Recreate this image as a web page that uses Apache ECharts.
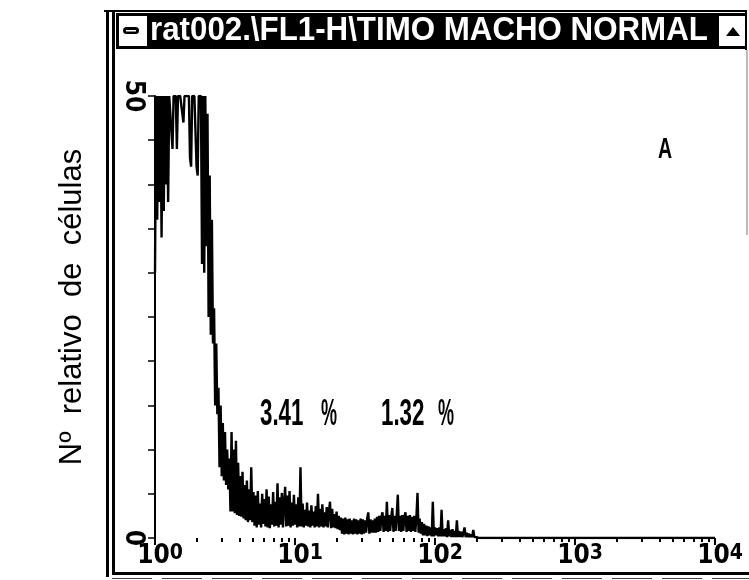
<!DOCTYPE html>
<html><head><meta charset="utf-8">
<script src="https://cdn.jsdelivr.net/npm/echarts@6/dist/echarts.min.js"></script>
<style>html,body{margin:0;padding:0;background:#fff}#c{width:749px;height:580px}</style>
</head><body><div id="c"></div>
<script>
// ---- data (FL1-H histogram, 1024 channels, 4 log decades; counts per 2-channel bin, display clipped at 50)
const binWidth = 2;
const channelsPerDecade = 256;
const lastChannel = 1024;
const counts = [
 30,50,36,50,38,50,34,50,37,50, 40,50,38,50,50,46,44,50,50,50,
 44,50,50,50,50,48,47,50,50,50, 50,50,43,42,50,50,50,50,42,41,
 50,50,50,31,50,30,50,33,48,25, 41,23,36,22,26,15,22,14,17,8,
 15,7,13,6.5,12,6,10,5.5,9,3, 12,3,10,2.8,11,2.6,8.5,2.5,7,2.4,
 7.5,2.2,6,2,6.5,1.8,5.5,2,8,1.8, 5.2,1.4,4.8,1.2,5.3,1.5,3.9,1.2,5.0,1.6,
 4.4,1.3,5.5,1.2,4.7,1.1,3.8,1.5,5.2,1.3, 4.1,1.4,6.2,1.2,4.6,1.5,5.1,1.2,3.9,5.8,
 1.3,4.8,1.4,5.3,1.2,4.0,1.4,4.9,1.5,3.8, 1.2,4.6,1.3,8.0,1.3,3.9,1.2,3.2,1.4,4.0,
 1.3,3.1,1.2,3.7,1.4,3.0,1.2,3.6,1.3,5.0, 1.2,3.3,1.3,3.8,1.2,2.9,1.3,3.5,1.2,3.0,
 4.1,1.1,3.3,1.2,2.7,1.1,3.0,1.0,2.5,0.9, 2.3,0.5,2.2,0.4,2.3,0.5,2.1,0.4,2.2,0.5,
 2.0,0.4,2.2,0.5,2.1,0.4,2.0,0.5,2.2,0.4, 2.1,0.5,2.0,0.6,2.2,2.9,0.5,2.1,0.6,2.0,
 0.6,2.2,0.6,2.4,0.7,2.5,0.8,2.4,2.9,0.7, 2.5,0.8,4.1,0.7,2.6,0.8,2.4,3.4,0.7,2.5,
 0.8,2.6,4.9,0.8,2.5,0.7,2.6,0.8,2.4,2.9, 0.7,2.5,0.8,2.6,0.7,2.4,0.8,2.5,0.7,2.3,
 5.1,0.6,2.2,0.5,1.8,0.3,1.6,0.3,1.4,0.2, 1.3,0.3,1.2,0.2,4.1,0.2,1.2,0.3,1.1,0.2,
 1.2,0.2,3.2,0.2,1.0,0.2,1.1,0.1,2.0,0.2, 0.9,0.1,1.0,0.1,0.8,0.1,2.0,0.1,0.8,0.1,
 0.7,0.1,0.6,1.2,0.1,0.6,0.1,0.5,0.1,0.4, 0.1,0.9,0.1,0.3,0.1,0.2,0
];
const decadeExponents = ['0','1','2','3','4'];
const majorTickChannels = [0,256,512,768,1024];
const minorTickValues = [2,3,4,5,6,7,8,9,20,30,40,50,60,70,80,90,200,300,400,500,600,700,800,900,2000,3000,4000,5000,6000,7000,8000,9000];
const yMin = 0, yMax = 50, yStep = 5;
const yLabelValues = [0, 50];
const windowTitle = 'rat002.\\FL1-H\\TIMO MACHO NORMAL';
const yTitle = 'Nº  relativo  de  células';
const gatePercents = ['3.41', '1.32'];
const panelLetter = 'A';

// ---- build
const seriesData = counts.map((c, i) => [i * binWidth, c]).concat([[lastChannel, 0]]);
const minorChannels = minorTickValues.map(v => channelsPerDecade * Math.log10(v));
const narrow = "'Liberation Sans Narrow','DejaVu Sans Condensed','Liberation Sans',Arial,sans-serif";
const regular = "'Liberation Sans',Arial,Helvetica,sans-serif";
const gridBox = {left: 155, right: 34, top: 96, bottom: 42};

const chart = echarts.init(document.getElementById('c'));
chart.setOption({
  animation: false,
  backgroundColor: '#fff',
  grid: [Object.assign({}, gridBox), Object.assign({}, gridBox)],
  xAxis: [{
    gridIndex: 0, type: 'value', min: 0, max: lastChannel,
    axisLine: {show: false}, splitLine: {show: false},
    axisTick: {show: true, customValues: majorTickChannels, length: 7, lineStyle: {color: '#000', width: 2}},
    axisLabel: {
      show: true, customValues: majorTickChannels, margin: 5, padding: [0, 0, 0, 10],
      formatter: v => '{b|10}{s|' + decadeExponents[majorTickChannels.indexOf(v)] + '}',
      rich: {
        b: {fontSize: 26, fontWeight: 'bold', fontFamily: narrow, color: '#000'},
        s: {fontSize: 21, fontWeight: 'bold', fontFamily: narrow, color: '#000', verticalAlign: 'top'}
      }
    }
  }, {
    gridIndex: 1, type: 'value', min: 0, max: lastChannel,
    axisLine: {show: false}, splitLine: {show: false}, axisLabel: {show: false},
    axisTick: {show: true, customValues: minorChannels, length: 4, lineStyle: {color: '#000', width: 2}}
  }],
  yAxis: [{
    gridIndex: 0, type: 'value', min: yMin, max: yMax, interval: yStep,
    axisLine: {show: true, lineStyle: {color: '#000', width: 2}},
    splitLine: {show: false},
    axisTick: {show: true, length: 7, lineStyle: {color: '#000', width: 1.5}},
    axisLabel: {
      rotate: -90, margin: 9, fontSize: 26, fontWeight: 'bold', fontFamily: narrow, color: '#000',
      formatter: v => yLabelValues.indexOf(v) >= 0 ? String(v) : ''
    },
    name: yTitle, nameLocation: 'middle', nameRotate: 90, nameGap: 67,
    nameTextStyle: {fontFamily: regular, fontSize: 31, color: '#000', padding: [0, 0, 0, 20]}
  }, {
    gridIndex: 1, type: 'value', show: false, min: 0, max: 1
  }],
  series: [{
    type: 'line', xAxisIndex: 0, yAxisIndex: 0, data: seriesData,
    symbol: 'none', lineStyle: {color: '#000', width: 2.4}, z: 5
  }],
  graphic: [
    {type: 'rect', shape: {x: 104, y: 10, width: 643, height: 2}, style: {fill: '#000'}},
    {type: 'rect', shape: {x: 106, y: 10, width: 3, height: 567}, style: {fill: '#000'}},
    {type: 'rect', shape: {x: 112, y: 10, width: 3, height: 565}, style: {fill: '#000'}},
    {type: 'rect', shape: {x: 116, y: 13, width: 631, height: 36}, style: {fill: '#000'}},
    {type: 'text', x: 150, y: 31, scaleX: 0.92, style: {text: windowTitle, fill: '#fff', font: 'bold 34px ' + regular, verticalAlign: 'middle'}},
    {type: 'rect', shape: {x: 119, y: 16, width: 28, height: 30}, style: {fill: '#fff'}},
    {type: 'rect', shape: {x: 123, y: 27, width: 16, height: 7, r: 3.5}, style: {fill: '#000'}},
    {type: 'rect', shape: {x: 126, y: 30, width: 10, height: 1.5}, style: {fill: '#fff'}},
    {type: 'rect', shape: {x: 719, y: 16, width: 26, height: 30}, style: {fill: '#fff'}},
    {type: 'polygon', shape: {points: [[726, 36], [740, 36], [733, 27]]}, style: {fill: '#000'}},
    {type: 'rect', shape: {x: 745, y: 10, width: 2, height: 40}, style: {fill: '#000'}},
    {type: 'line', shape: {x1: 747, y1: 50, x2: 747, y2: 235}, style: {stroke: '#777', lineWidth: 1}},
    {type: 'rect', shape: {x: 112, y: 572, width: 637, height: 3}, style: {fill: '#000'}},
    {type: 'line', shape: {x1: 112, y1: 578.5, x2: 749, y2: 578.5}, style: {stroke: '#444', lineWidth: 1, lineDash: [40, 10]}},
    {type: 'text', x: 260, y: 415, scaleX: 0.62, style: {text: gatePercents[0], fill: '#000', font: 'bold 36px ' + regular, verticalAlign: 'middle'}},
    {type: 'text', x: 321, y: 415, scaleX: 0.5, style: {text: '%', fill: '#000', font: 'bold 36px ' + regular, verticalAlign: 'middle'}},
    {type: 'text', x: 381, y: 415, scaleX: 0.62, style: {text: gatePercents[1], fill: '#000', font: 'bold 36px ' + regular, verticalAlign: 'middle'}},
    {type: 'text', x: 438, y: 415, scaleX: 0.5, style: {text: '%', fill: '#000', font: 'bold 36px ' + regular, verticalAlign: 'middle'}},
    {type: 'text', x: 658, y: 150, scaleX: 0.65, style: {text: panelLetter, fill: '#000', font: 'bold 30px ' + regular, verticalAlign: 'middle'}}
  ]
});
</script></body></html>
